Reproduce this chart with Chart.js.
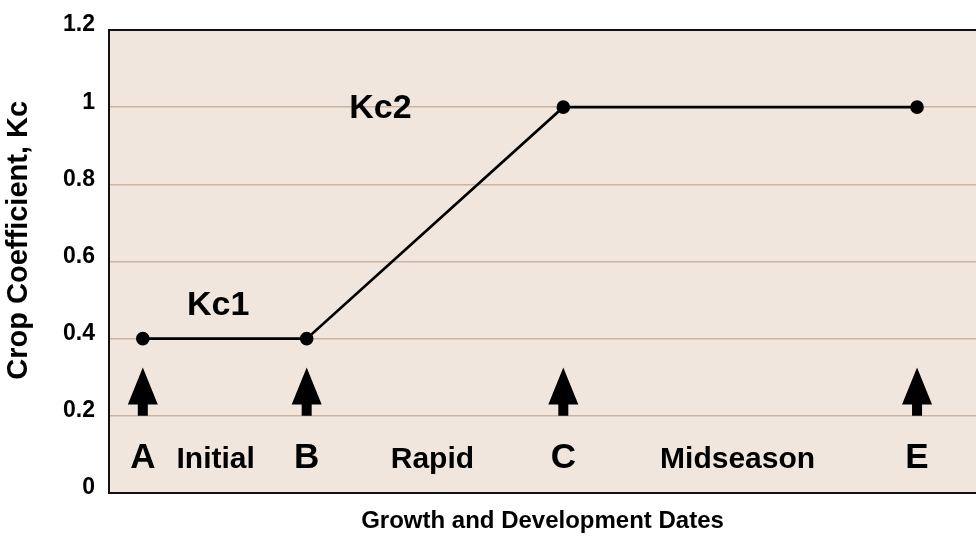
<!DOCTYPE html>
<html>
<head>
<meta charset="utf-8">
<script src="https://cdn.jsdelivr.net/npm/chart.js@4/dist/chart.umd.min.js"></script>
<style>
  html, body { margin: 0; padding: 0; background: #fff; overflow: hidden; }
  #wrap { width: 976px; height: 539px; }
</style>
</head>
<body>
<div id="wrap"><canvas id="kcChart"></canvas></div>
<script>
// Crop coefficient curve (x = relative season position, y = Kc)
const stageX = [3.9, 22.8, 52.4, 93.2];
const kcValues = [0.4, 0.4, 1.0, 1.0];

// milestone letters + stage names along the bottom
const markLetters = ["A", "B", "C", "E"];
const stageNames = ["Initial", "Rapid", "Midseason"];
const stageNameX = [12.3, 37.3, 72.5];
const markTextY = 0.066;

// arrows under each milestone
const arrowTipY = 0.325;
const arrowBaseY = 0.2;

// Kc labels
const kcLabels = ["Kc1", "Kc2"];
const kcLabelX = [12.6, 31.3];
const kcLabelY = [0.462, 0.972];

const yTicks = [0, 0.2, 0.4, 0.6, 0.8, 1, 1.2];
const yTitle = "Crop Coefficient, Kc";
const yTitleAt = 0.655; // value level where the rotated title is centred

const FONT = "'Liberation Sans', Arial, sans-serif";
const BG = "#f0e6de";
const GRID = "#cbb5a2";

const annotate = {
  id: "annotate",
  beforeDraw(chart) {
    const { ctx, chartArea: a } = chart;
    ctx.save();
    ctx.fillStyle = BG;
    ctx.fillRect(a.left, a.top, a.right - a.left, a.bottom - a.top);
    ctx.restore();
  },
  afterDraw(chart) {
    const { ctx, chartArea: a } = chart;
    const xs = chart.scales.x, ys = chart.scales.y;
    ctx.save();

    // top frame line
    ctx.strokeStyle = "#111";
    ctx.lineWidth = 2;
    ctx.beginPath();
    ctx.moveTo(a.left - 1, a.top);
    ctx.lineTo(a.right, a.top);
    ctx.stroke();

    // arrows
    ctx.fillStyle = "#000";
    const tip = ys.getPixelForValue(arrowTipY);
    const base = ys.getPixelForValue(arrowBaseY);
    stageX.forEach(v => {
      const x = xs.getPixelForValue(v);
      const headBot = tip + 37;
      ctx.beginPath();
      ctx.moveTo(x, tip);
      ctx.lineTo(x + 15, headBot);
      ctx.lineTo(x + 5, headBot);
      ctx.lineTo(x + 5, base);
      ctx.lineTo(x - 5, base);
      ctx.lineTo(x - 5, headBot);
      ctx.lineTo(x - 15, headBot);
      ctx.closePath();
      ctx.fill();
    });

    // letters and stage names
    ctx.textAlign = "center";
    ctx.textBaseline = "alphabetic";
    const ty = ys.getPixelForValue(markTextY);
    ctx.font = "bold 35px " + FONT;
    markLetters.forEach((t, i) => ctx.fillText(t, xs.getPixelForValue(stageX[i]), ty));
    ctx.font = "bold 30px " + FONT;
    stageNames.forEach((t, i) => ctx.fillText(t, xs.getPixelForValue(stageNameX[i]), ty));

    // Kc labels
    ctx.font = "bold 34px " + FONT;
    kcLabels.forEach((t, i) =>
      ctx.fillText(t, xs.getPixelForValue(kcLabelX[i]), ys.getPixelForValue(kcLabelY[i])));

    // y axis title
    ctx.translate(19, ys.getPixelForValue(yTitleAt));
    ctx.rotate(-Math.PI / 2);
    ctx.textBaseline = "middle";
    ctx.font = "bold 29px " + FONT;
    ctx.fillText(yTitle, 0, 0);

    ctx.restore();
  }
};

new Chart(document.getElementById("kcChart"), {
  type: "scatter",
  data: {
    datasets: [{
      data: stageX.map((x, i) => ({ x, y: kcValues[i] })),
      showLine: true,
      borderColor: "#000",
      backgroundColor: "#000",
      borderWidth: 2.6,
      pointRadius: 5.5,
      pointHoverRadius: 5.5,
      tension: 0
    }]
  },
  options: {
    responsive: true,
    maintainAspectRatio: false,
    animation: false,
    events: [],
    layout: { autoPadding: false, padding: { top: 30, right: 0, left: 0, bottom: 0 } },
    plugins: { legend: { display: false }, tooltip: { enabled: false } },
    scales: {
      x: {
        type: "linear",
        min: 0,
        max: 100,
        ticks: { display: false },
        grid: { display: false, drawTicks: false },
        border: { display: true, color: "#111", width: 2 },
        title: {
          display: true,
          text: "Growth and Development Dates",
          color: "#000",
          font: { family: FONT, size: 24, weight: "bold" },
          padding: { top: 0, bottom: 3 }
        },
        afterFit(scale) { scale.height = 46; }
      },
      y: {
        min: 0,
        max: 1.2,
        afterBuildTicks(scale) { scale.ticks = yTicks.map(v => ({ value: v })); },
        ticks: {
          color: "#000",
          padding: 14,
          labelOffset: -5,
          font: { family: FONT, size: 23, weight: "bold" },
          callback: v => String(Math.round(v * 10) / 10)
        },
        grid: { color: GRID, lineWidth: 1.5, drawTicks: false },
        border: { display: true, color: "#111", width: 2 },
        afterFit(scale) { scale.width = 109; }
      }
    }
  },
  plugins: [annotate]
});
</script>
</body>
</html>
